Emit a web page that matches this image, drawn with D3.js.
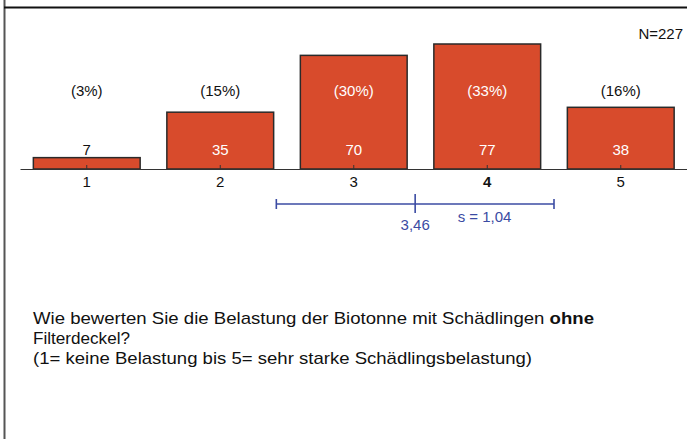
<!DOCTYPE html>
<html>
<head>
<meta charset="utf-8">
<script src="https://cdn.jsdelivr.net/npm/d3@7"></script>
<style>
  html, body { margin: 0; padding: 0; background: #fff; }
  svg { display: block; font-family: "Liberation Sans", Arial, sans-serif; }
</style>
</head>
<body>
<div class="content"></div>
<script>
const w = 687;
const h = 439;

// data
const categories = [1, 2, 3, 4, 5];
const counts = [7, 35, 70, 77, 38];
const percents = ['(3%)', '(15%)', '(30%)', '(33%)', '(16%)'];
const total = 'N=227';
const mean = 3.46;
const sd = 1.04;
const meanLabel = '3,46';
const sdLabel = 's = 1,04';
const question = ['Wie bewerten Sie die Belastung der Biotonne mit Schädlingen ', 'ohne'];
const questionLines = ['Filterdeckel?', '(1= keine Belastung bis 5= sehr starke Schädlingsbelastung)'];

const barColor = '#d84b2c';
const blue = '#3b4ba3';
const font = '"Liberation Sans", Arial, sans-serif';

const svg = d3.select('.content').append('svg')
	.attr('width', w)
	.attr('height', h);

// frame
svg.append('line')
	.attr('x1', 4.5).attr('x2', 4.5)
	.attr('y1', 0).attr('y2', h)
	.attr('stroke', '#555')
	.attr('stroke-width', 2);

svg.append('line')
	.attr('x1', 4).attr('x2', w)
	.attr('y1', 7.5).attr('y2', 7.5)
	.attr('stroke', '#111')
	.attr('stroke-width', 2);

const x = d3.scaleBand()
	.domain(categories)
	.range([20, 687.5])
	.paddingInner(0.2)
	.paddingOuter(0.1);

const y = d3.scaleLinear()
	.domain([0, 77])
	.range([169, 44]);

const xc = d => x(d) + x.bandwidth() / 2;

const xLin = d3.scaleLinear()
	.domain([1, 5])
	.range([xc(1), xc(5)]);

const data = categories.map((c, i) => ({ c, n: counts[i], p: percents[i] }));

svg.selectAll('rect.bar')
	.data(data)
	.enter()
	.append('rect')
	.attr('class', 'bar')
	.attr('x', d => x(d.c))
	.attr('y', d => y(d.n))
	.attr('width', x.bandwidth())
	.attr('height', d => y(0) - y(d.n))
	.attr('fill', barColor)
	.attr('stroke', '#2a2a2a')
	.attr('stroke-width', 1.5);

// axis
const axis = svg.append('g')
	.attr('transform', `translate(0,${y(0)})`)
	.call(d3.axisBottom(x).tickSizeInner(-4).tickSizeOuter(0).tickPadding(7));

axis.select('.domain').attr('stroke', '#333');
axis.selectAll('.tick line').attr('stroke', '#333');
axis.selectAll('.tick text')
	.attr('font-size', 15)
	.attr('font-family', font)
	.attr('fill', '#111')
	.attr('font-weight', d => d === 4 ? 'bold' : 'normal');

// count labels
svg.selectAll('text.count')
	.data(data)
	.enter()
	.append('text')
	.attr('class', 'count')
	.attr('x', d => xc(d.c))
	.attr('y', 154.5)
	.attr('text-anchor', 'middle')
	.attr('font-size', 15)
	.attr('fill', d => y(d.n) < 140 ? '#fff' : '#111')
	.text(d => d.n);

// percent labels
svg.selectAll('text.pct')
	.data(data)
	.enter()
	.append('text')
	.attr('class', 'pct')
	.attr('x', d => xc(d.c))
	.attr('y', 95.5)
	.attr('text-anchor', 'middle')
	.attr('font-size', 15)
	.attr('fill', d => y(d.n) < 80 ? '#fff' : '#111')
	.text(d => d.p);

svg.append('text')
	.attr('x', 683)
	.attr('y', 38.5)
	.attr('text-anchor', 'end')
	.attr('font-size', 15)
	.attr('fill', '#111')
	.text(total);

// mean and standard deviation
const sdY = 204;
const g = svg.append('g').attr('stroke', blue).attr('stroke-width', 1.6);
g.append('line')
	.attr('x1', xLin(mean - sd)).attr('x2', xLin(mean + sd))
	.attr('y1', sdY).attr('y2', sdY);
[mean - sd, mean + sd].forEach(v => {
	g.append('line')
		.attr('x1', xLin(v)).attr('x2', xLin(v))
		.attr('y1', sdY - 5).attr('y2', sdY + 5);
});
g.append('line')
	.attr('x1', xLin(mean)).attr('x2', xLin(mean))
	.attr('y1', sdY - 10).attr('y2', sdY + 9);

svg.append('text')
	.attr('x', xLin(mean))
	.attr('y', 229.5)
	.attr('text-anchor', 'middle')
	.attr('font-size', 15)
	.attr('fill', blue)
	.text(meanLabel);

svg.append('text')
	.attr('x', (xLin(mean) + xLin(mean + sd)) / 2)
	.attr('y', 221.5)
	.attr('text-anchor', 'middle')
	.attr('font-size', 15)
	.attr('fill', blue)
	.text(sdLabel);

// question text
const q = svg.append('text')
	.attr('x', 33)
	.attr('y', 324)
	.attr('font-size', 17)
	.attr('fill', '#111')
	.attr('textLength', 561)
	.attr('lengthAdjust', 'spacingAndGlyphs');
q.append('tspan').text(question[0]);
q.append('tspan').attr('font-weight', 'bold').text(question[1]);

svg.append('text')
	.attr('x', 33)
	.attr('y', 344)
	.attr('font-size', 17)
	.attr('fill', '#111')
	.attr('textLength', 97)
	.attr('lengthAdjust', 'spacingAndGlyphs')
	.text(questionLines[0]);

svg.append('text')
	.attr('x', 33)
	.attr('y', 364)
	.attr('font-size', 17)
	.attr('fill', '#111')
	.attr('textLength', 499)
	.attr('lengthAdjust', 'spacingAndGlyphs')
	.text(questionLines[1]);
</script>
</body>
</html>
